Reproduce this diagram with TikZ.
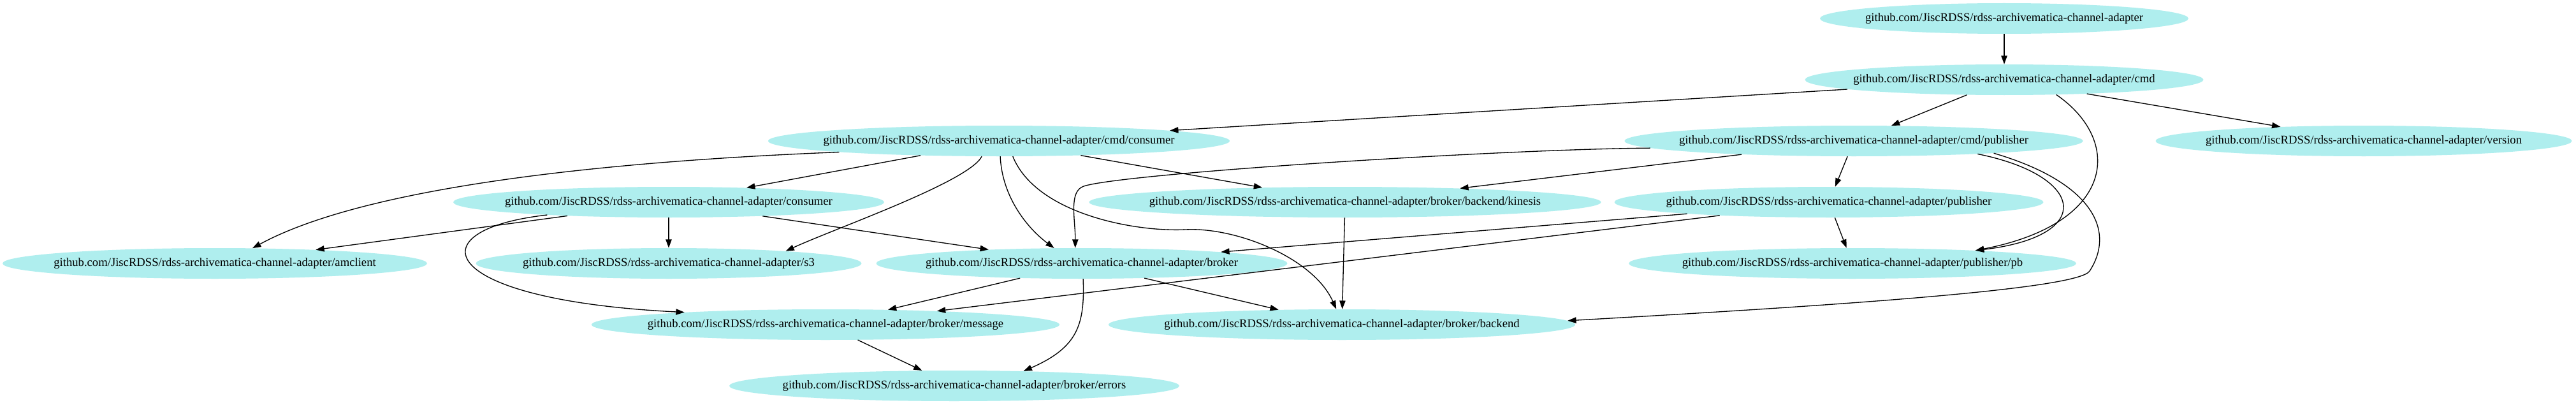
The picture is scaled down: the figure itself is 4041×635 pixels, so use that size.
\documentclass[tikz,border=0pt]{standalone}
\usepackage{fontspec}
\setmainfont{Liberation Serif}
\usetikzlibrary{shapes.geometric,arrows.meta}
\definecolor{paleturq}{HTML}{AFEEEE}
\tikzset{
pkg/.style={ellipse, fill=paleturq, inner sep=0pt, minimum height=36pt, minimum width=#1, font=\fontsize{14}{17}\selectfont}, % one go package
dep/.style={-{Triangle[length=10pt,width=7pt]}, line width=1pt}, % an import
}

\begin{document}
\begin{tikzpicture}[x=0.75pt,y=-0.75pt]
		\path[fill=white] (0,0) rectangle (4041,635);
		\node[pkg=433.5pt] (root)   at (3144,29) {\makebox[0pt]{github.com/JiscRDSS/rdss-archivematica-channel-adapter}};
		\node[pkg=468.75pt] (cmd)   at (3144,125) {\makebox[0pt]{github.com/JiscRDSS/rdss-archivematica-channel-adapter/cmd}};
		\node[pkg=543pt] (cmd_consumer)   at (1567,221) {\makebox[0pt]{github.com/JiscRDSS/rdss-archivematica-channel-adapter/cmd/consumer}};
		\node[pkg=539.25pt] (cmd_publisher)   at (2908,221) {\makebox[0pt]{github.com/JiscRDSS/rdss-archivematica-channel-adapter/cmd/publisher}};
		\node[pkg=489.75pt] (version)   at (3708,221) {\makebox[0pt]{github.com/JiscRDSS/rdss-archivematica-channel-adapter/version}};
		\node[pkg=507pt] (consumer)   at (1049,317) {\makebox[0pt]{github.com/JiscRDSS/rdss-archivematica-channel-adapter/consumer}};
		\node[pkg=602.25pt] (kinesis)   at (2110,317) {\makebox[0pt]{github.com/JiscRDSS/rdss-archivematica-channel-adapter/broker/backend/kinesis}};
		\node[pkg=504.75pt] (publisher)   at (2869,317) {\makebox[0pt]{github.com/JiscRDSS/rdss-archivematica-channel-adapter/publisher}};
		\node[pkg=499.5pt] (amclient)   at (337,413) {\makebox[0pt]{github.com/JiscRDSS/rdss-archivematica-channel-adapter/amclient}};
		\node[pkg=453.75pt] (s3)   at (1049,413) {\makebox[0pt]{github.com/JiscRDSS/rdss-archivematica-channel-adapter/s3}};
		\node[pkg=483.75pt] (broker)   at (1697,413) {\makebox[0pt]{github.com/JiscRDSS/rdss-archivematica-channel-adapter/broker}};
		\node[pkg=526.5pt] (pb)   at (2906,413) {\makebox[0pt]{github.com/JiscRDSS/rdss-archivematica-channel-adapter/publisher/pb}};
		\node[pkg=550.5pt] (message)   at (1295,509) {\makebox[0pt]{github.com/JiscRDSS/rdss-archivematica-channel-adapter/broker/message}};
		\node[pkg=549pt] (backend)   at (2105,509) {\makebox[0pt]{github.com/JiscRDSS/rdss-archivematica-channel-adapter/broker/backend}};
		\node[pkg=529.5pt] (errors)   at (1497,605) {\makebox[0pt]{github.com/JiscRDSS/rdss-archivematica-channel-adapter/broker/errors}};
		\path[dep]
		(root) edge (cmd)
		(cmd) edge (cmd_consumer)
		(cmd) edge (cmd_publisher)
		(cmd) edge (version)
		(cmd_consumer) edge (consumer)
		(cmd_consumer) edge (kinesis)
		(cmd_publisher) edge (kinesis)
		(cmd_publisher) edge (publisher)
		(consumer) edge (amclient)
		(consumer) edge (s3)
		(consumer) edge (broker)
		(kinesis) edge (backend)
		(publisher) edge (broker)
		(publisher) edge (message)
		(publisher) edge (pb)
		(broker) edge (message)
		(broker) edge (backend)
		(message) edge (errors);
		% curved imports
		\draw[dep] (cmd.-16) .. controls (3330,220) and (3320,350) .. (pb.6.6);
		\draw[dep] (cmd_publisher.-6.8) .. controls (3270,275) and (3290,370) .. (pb.6.6);
		\draw[dep] (cmd_publisher.-5.6) .. controls (3280,285) and (3320,360) .. (3278,425) .. controls (3260,453) and (2900,478) .. (backend.1.7);
		\draw[dep] (cmd_publisher.-178.5) .. controls (2350,234) and (1760,272) .. (1700,292) .. controls (1676,300) and (1687,345) .. (broker.113.5);
		\draw[dep] (cmd_consumer.-48.8) .. controls (1625,335) and (1780,364) .. (1860,360) .. controls (1940,356) and (2061,405) .. (backend.110.6);
		\draw[dep] (cmd_consumer.-85.2) .. controls (1572,310) and (1613,359) .. (broker.151.6);
		\draw[dep] (cmd_consumer.-138.4) .. controls (1520,285) and (1310,358) .. (s3.6.2);
		\draw[dep] (cmd_consumer.-176.7) .. controls (900,255) and (560,300) .. (amclient.22.3);
		\draw[dep] (consumer.-174.4) .. controls (650,360) and (680,470) .. (message.175.7);
		\draw[dep] (broker.-85.4) .. controls (1702,510) and (1690,545) .. (errors.12.1);
\end{tikzpicture}
\end{document}
